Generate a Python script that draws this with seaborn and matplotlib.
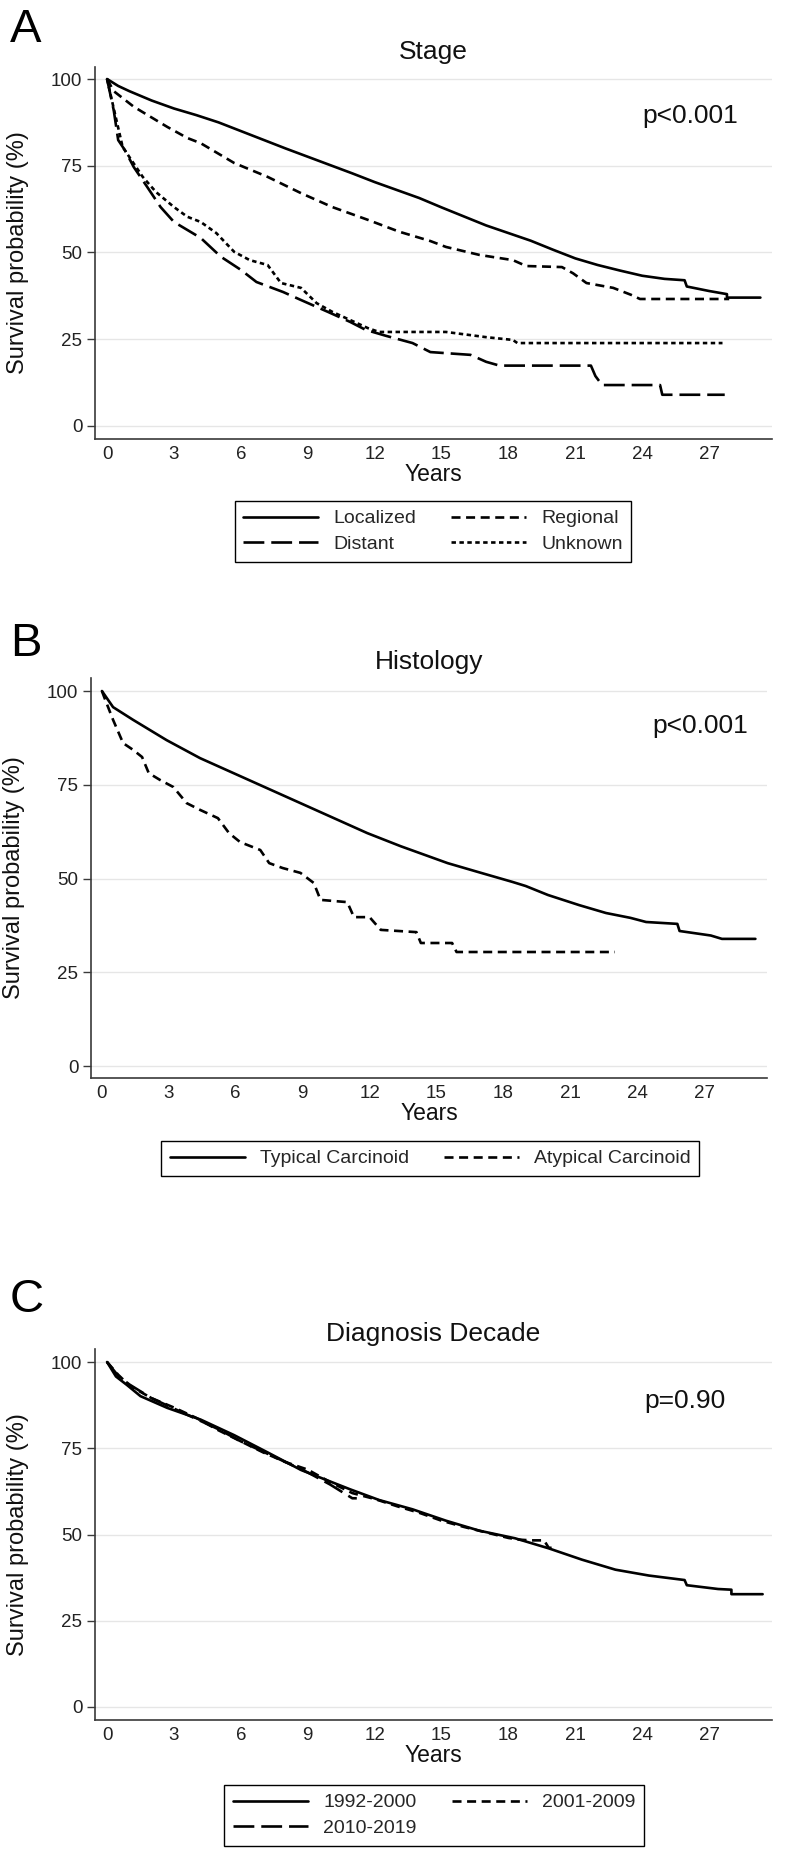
import pandas as pd
import matplotlib
matplotlib.use('Agg')
import matplotlib.pyplot as plt
import seaborn as sns

# ---- data (years, survival %) ----
# panel A: stage
loc_t = [0, 0.5, 1, 2, 3, 4, 5, 6, 7, 8, 9, 10, 11, 12, 13, 14, 15, 16, 17, 18, 19, 20, 21, 22, 23, 24, 25, 25.9, 26.0, 27.0, 27.8, 27.8, 29.3]
loc_v = [100, 98, 96.5, 93.8, 91.5, 89.6, 87.5, 85.0, 82.5, 80.0, 77.6, 75.2, 72.8, 70.3, 68.0, 65.7, 63.0, 60.4, 57.8, 55.6, 53.4, 50.8, 48.3, 46.4, 44.8, 43.3, 42.4, 42.0, 40.2, 38.9, 38.0, 37.0, 37.0]
reg_t = [0, 0.3, 1.2, 2.7, 3.6, 4.2, 5.7, 7.2, 8.7, 10.1, 11.7, 13.1, 14.5, 15.2, 16.7, 18.2, 18.8, 20.4, 20.9, 21.5, 22.7, 23.5, 23.9, 27.9]
reg_v = [100, 96.5, 92.0, 86.2, 83.0, 81.5, 75.8, 71.8, 67.1, 63.1, 59.4, 56.0, 53.3, 51.6, 49.3, 47.8, 46.1, 45.8, 44.0, 41.2, 39.8, 37.8, 36.6, 36.6]
dis_t = [0, 0.3, 0.5, 0.8, 1.2, 1.8, 2.4, 3.0, 4.2, 5.1, 6.0, 6.7, 7.9, 8.7, 9.9, 10.9, 11.6, 12.5, 13.7, 14.5, 16.3, 17.0, 17.6, 21.7, 21.9, 22.2, 24.8, 24.9, 27.7]
dis_v = [100, 91, 82.4, 79.5, 74.6, 68.9, 63.1, 58.8, 54.2, 48.8, 45.0, 41.5, 38.6, 36.3, 32.9, 30.0, 27.7, 26.0, 23.9, 21.3, 20.5, 18.5, 17.4, 17.4, 14.4, 11.8, 11.8, 9.0, 9.0]
unk_t = [0, 0.3, 0.7, 1.6, 2.2, 3.0, 3.6, 4.2, 4.9, 5.7, 6.4, 7.2, 7.8, 8.7, 9.4, 10.1, 11.7, 12.2, 15.2, 17.0, 18.2, 18.4, 27.6]
unk_v = [100, 91.5, 80.4, 71.8, 67.4, 63.1, 60.3, 58.8, 55.6, 50.2, 47.8, 46.4, 41.2, 39.8, 35.4, 32.9, 28.2, 27.1, 27.1, 25.6, 24.8, 23.9, 23.9]

# panel B: histology
typ_t = [0, 0.5, 1.4, 2.9, 4.4, 5.9, 7.4, 8.9, 10.4, 11.9, 13.4, 15.5, 17.0, 18.4, 19.0, 20.0, 21.4, 22.6, 23.7, 24.4, 25.8, 25.9, 26.6, 27.3, 27.8, 29.3]
typ_v = [100, 95.7, 92.3, 86.9, 82.1, 78.1, 74.1, 70.1, 66.1, 62.1, 58.6, 54.1, 51.5, 49.1, 48.0, 45.6, 42.9, 40.8, 39.5, 38.4, 37.9, 36.0, 35.4, 34.8, 33.9, 33.9]
aty_t = [0, 0.1, 0.5, 0.95, 1.4, 1.8, 2.1, 2.6, 3.2, 3.8, 4.4, 5.2, 5.7, 6.2, 7.1, 7.5, 8.1, 8.9, 9.5, 9.8, 11.0, 11.3, 12.0, 12.5, 14.1, 14.3, 15.7, 15.9, 23.0]
aty_v = [100, 98.4, 92.3, 86.1, 84.3, 82.4, 78.1, 76.3, 74.4, 70.1, 68.3, 66.1, 62.1, 59.7, 57.6, 54.1, 52.8, 51.5, 48.8, 44.3, 43.7, 39.7, 39.7, 36.3, 35.7, 32.8, 32.8, 30.4, 30.4]

# panel C: diagnosis decade
d92_t = [0, 0.4, 0.9, 1.5, 2.7, 4.2, 5.7, 7.2, 8.7, 9.6, 10.9, 12.2, 13.7, 15.2, 16.7, 18.3, 19.8, 21.3, 22.8, 24.3, 25.9, 26.0, 27.4, 28.0, 28.0, 29.4]
d92_v = [100, 95.8, 93.3, 90.1, 86.7, 83.3, 78.8, 73.8, 68.7, 66.4, 63.1, 60.0, 57.3, 54.0, 51.1, 48.9, 46.0, 42.7, 39.8, 38.1, 36.8, 35.3, 34.2, 34.0, 32.7, 32.7]
d01_t = [0, 0.5, 1, 2, 3, 4, 5, 6, 7, 8, 9, 10, 11, 12, 13, 14, 15, 16, 17, 18, 18.5, 19.0, 19.6, 19.8, 20.1]
d01_v = [100, 96.3, 93.2, 89.5, 86.8, 83.8, 80.2, 77.0, 73.8, 71.0, 68.8, 65.2, 62.0, 60.3, 58.2, 56.3, 54.0, 52.2, 50.6, 49.0, 48.5, 48.3, 48.3, 46.2, 46.0]
d10_t = [0, 0.5, 1, 2, 3, 4, 5, 6, 7, 8, 9, 10, 10.5, 11.0, 11.2]
d10_v = [100, 96.0, 93.5, 89.5, 86.5, 83.5, 80.5, 77.0, 74.0, 71.0, 68.0, 64.5, 62.5, 60.5, 60.5]

x_ticks = [0, 3, 6, 9, 12, 15, 18, 21, 24, 27]
y_ticks = [0, 25, 50, 75, 100]

sns.set_theme(style='white')
plt.rcParams['font.family'] = ['Liberation Sans', 'DejaVu Sans']
plt.rcParams['lines.scale_dashes'] = False

W, H = 793, 1853
fig = plt.figure(figsize=(W / 100, H / 100), dpi=100)

solid = '-'
short_dash = (0, (6.5, 4))
long_dash = (0, (15, 5))
dotted = (0, (3.2, 2.5))


def make_axes(left, top, right, bottom):
    # pixel box -> figure fraction
    return fig.add_axes([left / W, 1 - bottom / H, (right - left) / W, (bottom - top) / H])


def draw_panel(ax, series, title, ptext, ptext_xy, xlim, ylim, letter, letter_y,
               leg_top, leg_cx, leg_order, ncol):
    handles = []
    for name, t, v, ls in series:
        df = pd.DataFrame({'Years': t, 'Survival': v})
        sns.lineplot(data=df, x='Years', y='Survival', ax=ax, color='black',
                     linewidth=1.9, linestyle=ls, estimator=None, sort=False,
                     label=name)
        handles.append(ax.lines[-1])
    if ax.get_legend() is not None:
        ax.get_legend().remove()

    ax.set_xlim(*xlim)
    ax.set_ylim(*ylim)
    ax.set_xticks(x_ticks)
    ax.set_yticks(y_ticks)
    ax.yaxis.grid(True, color='#E6E6E6', linewidth=1.0)
    ax.xaxis.grid(False)
    for s in ['top', 'right']:
        ax.spines[s].set_visible(False)
    for s in ['left', 'bottom']:
        ax.spines[s].set_color('#3a3a3a')
        ax.spines[s].set_linewidth(1.2)
    ax.tick_params(axis='y', length=5.5, width=1, color='#3a3a3a', pad=3.5,
                   labelsize=13.5, labelcolor='#222222', left=True)
    ax.tick_params(axis='x', length=0, pad=5, labelsize=13.5, labelcolor='#222222')
    ax.set_xlabel('Years', fontsize=16.5, labelpad=0, color='#111111')
    ax.set_ylabel('Survival probability (%)', fontsize=17, color='#111111')
    ax.yaxis.set_label_coords(-0.0975, 0.5)

    axh = ax.get_position().height * H
    ax.text(0.5, 1 + 8.5 / axh, title, transform=ax.transAxes, ha='center',
            va='baseline', fontsize=19, color='#111111')
    ax.text(ptext_xy[0], ptext_xy[1], ptext, ha='left', va='baseline',
            fontsize=19, color='#111111')
    fig.text(10 / W, 1 - letter_y / H, letter, ha='left', va='baseline',
             fontsize=34, color='black')

    hs = [handles[i] for i in leg_order]
    labs = [series[i][0] for i in leg_order]
    leg = fig.legend(hs, labs, loc='upper center', ncol=ncol,
                     bbox_to_anchor=(leg_cx / W, 1 - leg_top / H),
                     borderaxespad=0, frameon=True, fancybox=False,
                     fontsize=14, handlelength=3.86, handletextpad=0.77,
                     columnspacing=1.8, borderpad=0.45, labelspacing=0.42)
    leg.get_frame().set_edgecolor('black')
    leg.get_frame().set_linewidth(1.0)
    leg.get_frame().set_alpha(1)


# panel A
axA = make_axes(95, 67, 772, 439)
draw_panel(axA,
           [('Localized', loc_t, loc_v, solid),
            ('Regional', reg_t, reg_v, short_dash),
            ('Distant', dis_t, dis_v, long_dash),
            ('Unknown', unk_t, unk_v, dotted)],
           'Stage', 'p<0.001', (24.0, 87.3), (-0.54, 29.82), (-3.75, 103.46),
           'A', 42, 501, 433, [0, 2, 1, 3], 2)

# panel B
axB = make_axes(91, 678, 767, 1078)
draw_panel(axB,
           [('Typical Carcinoid', typ_t, typ_v, solid),
            ('Atypical Carcinoid', aty_t, aty_v, short_dash)],
           'Histology', 'p<0.001', (24.7, 88.8), (-0.49, 29.82), (-3.2, 103.47),
           'B', 656, 1141, 430, [0, 1], 2)

# panel C
axC = make_axes(95, 1349, 772, 1720)
draw_panel(axC,
           [('1992-2000', d92_t, d92_v, solid),
            ('2001-2009', d01_t, d01_v, short_dash),
            ('2010-2019', d10_t, d10_v, long_dash)],
           'Diagnosis Decade', 'p=0.90', (24.1, 86.7), (-0.54, 29.82), (-3.77, 103.77),
           'C', 1312, 1785, 434, [0, 2, 1], 2)

fig.savefig('out.png', dpi=100, facecolor='white')
